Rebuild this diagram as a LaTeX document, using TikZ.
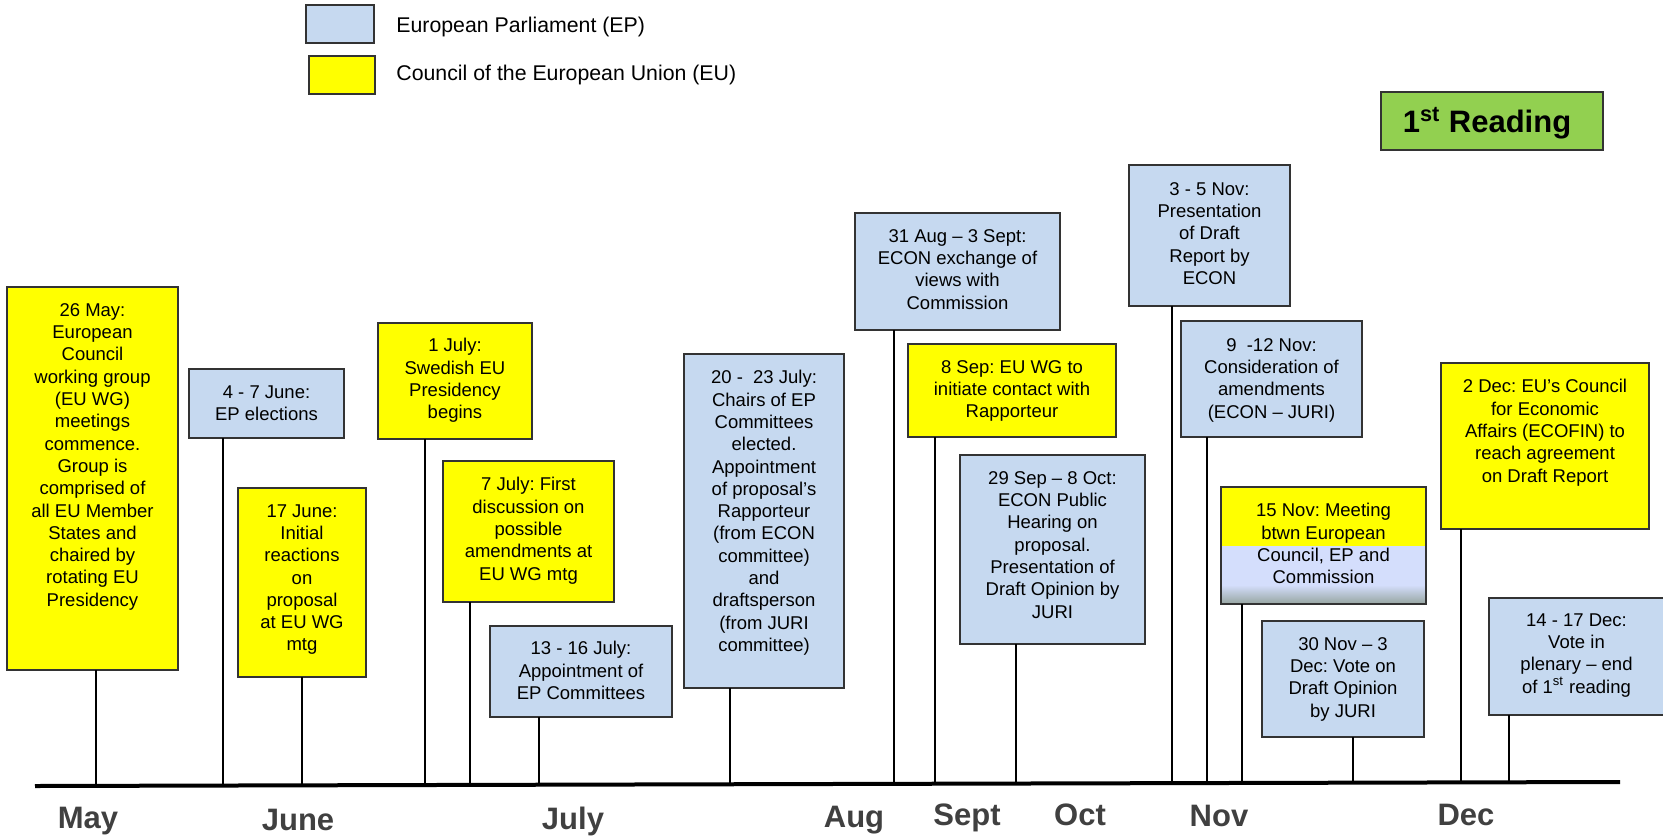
\documentclass[tikz,border=0pt]{standalone}
\usepackage{fontspec}
\setmainfont{Liberation Sans}
\usetikzlibrary{calc}
\frenchspacing
\definecolor{epblue}{HTML}{C6D9F0}
\definecolor{euyellow}{HTML}{FFFF00}
\definecolor{rgreen}{HTML}{92D050}
\definecolor{boxline}{HTML}{333333}
\definecolor{monthgray}{HTML}{404040}
\definecolor{lavender}{RGB}{212,222,252}
\definecolor{shadegray}{RGB}{150,165,160}

\newcommand\evbox[8]{%
  \node[#2, minimum width={(#5-#3)*0.5pt}, minimum height={(#6-#4)*0.5pt}] (#1) at ({(#3+#5)/2},{(#4+#6)/2}) {};
  \node[txt, anchor=north] (#1t) at ({(#3+#5)/2},#7) {#8};}
\newcommand\tick[3]{% name, x, box
  \coordinate (#1) at ($(axL)!(#2,0)!(axR)$);
  \draw[conn] (#3.south -| #1) -- (#1);}

\begin{document}
\begin{tikzpicture}[x=0.5pt,y=-0.5pt,
  ep/.style={draw=boxline, line width=1pt, fill=epblue, inner sep=0, outer sep=0},
  eu/.style={draw=boxline, line width=1pt, fill=euyellow, inner sep=0, outer sep=0},
  mix/.style={draw=boxline, line width=1pt, inner sep=0, outer sep=0},
  txt/.style={font=\fontsize{9.25}{11.15}\selectfont\frenchspacing, align=center, inner sep=0},
  conn/.style={line width=1pt, black},
  month/.style={font=\fontsize{15.5}{18}\selectfont\bfseries, text=monthgray, anchor=base, inner sep=0},
  legtxt/.style={font=\fontsize{10.65}{13}\selectfont, anchor=west, inner sep=0}]
\useasboundingbox (0,0) rectangle (1663,835);

% legend
\node[ep, minimum width=34pt, minimum height=19pt] (legEP) at (340,24) {};
\node[legtxt] (legEPt) at (396,26.5) {European Parliament (EP)};
\node[eu, minimum width=33pt, minimum height=19pt] (legEU) at (342,75) {};
\node[legtxt] (legEUt) at (396,75) {Council of the European Union (EU)};

% 1st reading
\node[draw=boxline, line width=1pt, fill=rgreen, minimum width=111pt, minimum height=29pt, inner sep=0] (reading) at (1492,121) {};
\node[font=\fontsize{15.5}{18}\selectfont\bfseries, inner sep=0] (readingt) at (1487,123) {1\textsuperscript{st} Reading};

% axis
\coordinate (axL) at (35,786);
\coordinate (axR) at (1620,782);
\draw[line width=2pt] (axL) -- (axR);

% 15 Nov mixed fill
\fill[euyellow] (1221,487) rectangle (1426,546);
\fill[lavender] (1221,546) rectangle (1426,586);
\shade[top color=lavender, bottom color=shadegray] (1221,585) rectangle (1426,604);

% boxes
\evbox{b1}{eu}{7}{287}{178}{670}{303}{26 May:\\European\\Council\\working group\\(EU WG)\\meetings\\commence.\\Group is\\comprised of\\all EU Member\\States and\\chaired by\\rotating EU\\Presidency}
\evbox{b2}{ep}{189}{369}{344}{438}{385}{4 - 7 June:\\EP elections}
\evbox{b3}{eu}{238}{488}{366}{677}{504}{17 June:\\Initial\\reactions\\on\\proposal\\at EU WG\\mtg}
\evbox{b4}{eu}{378}{323}{532}{439}{338}{1 July:\\Swedish EU\\Presidency\\begins}
\evbox{b5}{eu}{443}{461}{614}{602}{477}{7 July: First\\discussion on\\possible\\amendments at\\EU WG mtg}
\evbox{b6}{ep}{490}{626}{672}{717}{641}{13 - 16 July:\\Appointment of\\EP Committees}
\evbox{b7}{ep}{684}{354}{844}{688}{370}{20 -~ 23 July:\\Chairs of EP\\Committees\\elected.\\Appointment\\of proposal’s\\Rapporteur\\(from ECON\\committee)\\and\\draftsperson\\(from JURI\\committee)}
\evbox{b8}{ep}{855}{213}{1060}{330}{229}{31 Aug – 3 Sept:\\ECON exchange of\\views with\\Commission}
\evbox{b9}{eu}{908}{344}{1116}{437}{360}{8 Sep: EU WG to\\initiate contact with\\Rapporteur}
\evbox{b10}{ep}{960}{455}{1145}{644}{471}{29 Sep – 8 Oct:\\ECON Public\\Hearing on\\proposal.\\Presentation of\\Draft Opinion by\\JURI}
\evbox{b11}{ep}{1129}{165}{1290}{306}{182}{3 - 5 Nov:\\Presentation\\of Draft\\Report by\\ECON}
\evbox{b12}{ep}{1181}{321}{1362}{437}{338}{9~ -12 Nov:\\Consideration of\\amendments\\(ECON – JURI)}
\evbox{b13}{mix}{1221}{487}{1426}{604}{503}{15 Nov: Meeting\\btwn European\\Council, EP and\\Commission}
\evbox{b14}{ep}{1262}{621}{1424}{737}{637}{30 Nov – 3\\Dec: Vote on\\Draft Opinion\\by JURI}
\evbox{b15}{ep}{1489}{598}{1664}{715}{613}{14 - 17 Dec:\\Vote in\\plenary – end\\of 1\textsuperscript{st} reading}
\evbox{b16}{eu}{1441}{363}{1649}{529}{379}{2 Dec: EU’s Council\\for Economic\\Affairs (ECOFIN) to\\reach agreement\\on Draft Report}

% connectors
\tick{l1}{94}{b1}
\tick{l2}{221}{b2}
\tick{l3}{300}{b3}
\tick{l4}{423}{b4}
\tick{l5}{468}{b5}
\tick{l6}{537}{b6}
\tick{l7}{728}{b7}
\tick{l8}{892}{b8}
\tick{l9}{933}{b9}
\tick{l10}{1014}{b10}
\tick{l11}{1170}{b11}
\tick{l12}{1205}{b12}
\tick{l13}{1240}{b13}
\tick{l14}{1351}{b14}
\tick{l15}{1507}{b15}
\tick{l16}{1459}{b16}

% months
\node[month] (mMay) at (88,828) {May};
\node[month] (mJun) at (298,830) {June};
\node[month] (mJul) at (573,829) {July};
\node[month] (mAug) at (854,827) {Aug};
\node[month] (mSep) at (967,825) {Sept};
\node[month] (mOct) at (1080,825) {Oct};
\node[month] (mNov) at (1219,826) {Nov};
\node[month] (mDec) at (1466,825) {Dec};
\end{tikzpicture}
\end{document}
